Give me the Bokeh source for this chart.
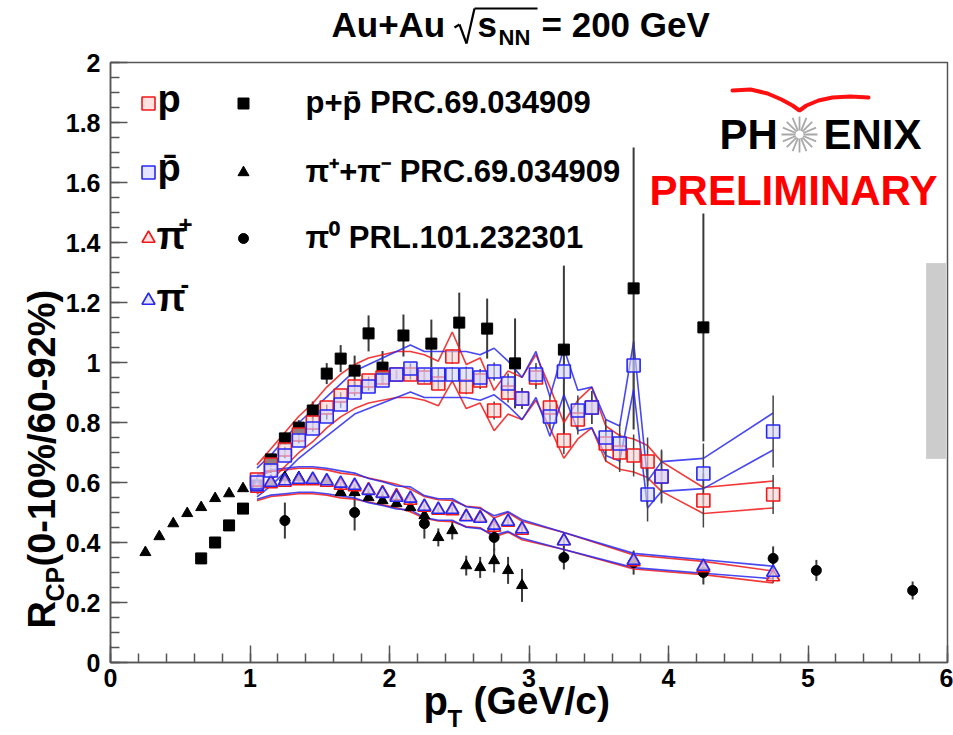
from math import pi, cos, sin

from bokeh.embed import file_html
from bokeh.models import FixedTicker, Label, PolyAnnotation, Range1d
from bokeh.plotting import figure
from bokeh.resources import INLINE

# ---------------------------------------------------------------- data
# PHENIX preliminary, 0-10% / 60-92% central-to-peripheral ratios
pt_p = [1.05, 1.15, 1.25, 1.35, 1.45, 1.55, 1.65, 1.75, 1.85, 1.95,
        2.05, 2.15, 2.25, 2.35, 2.45, 2.55, 2.65, 2.75, 2.85, 2.95,
        3.05, 3.15, 3.25, 3.35, 3.45, 3.55, 3.65, 3.75, 3.85, 3.95,
        4.25, 4.75]
rcp_p = [0.61, 0.66, 0.71, 0.76, 0.80, 0.85, 0.89, 0.92, 0.94, 0.95,
         0.96, 0.96, 0.95, 0.93, 1.02, 0.92, 0.94, 0.84, 0.90, 0.88,
         0.95, 0.85, 0.74, 0.81, 0.85, 0.73, 0.70, 0.69, 0.67, 0.62,
         0.54, 0.56]
stat_p = [0.008, 0.008, 0.009, 0.009, 0.010, 0.010, 0.011, 0.012, 0.013, 0.014,
          0.015, 0.017, 0.019, 0.021, 0.024, 0.026, 0.028, 0.030, 0.033, 0.035,
          0.038, 0.041, 0.045, 0.050, 0.055, 0.060, 0.065, 0.070, 0.080, 0.085,
          0.090, 0.065]
rcp_pbar = [0.60, 0.64, 0.69, 0.74, 0.78, 0.82, 0.86, 0.90, 0.92, 0.94,
            0.96, 0.98, 0.96, 0.96, 0.96, 0.96, 0.95, 0.97, 0.93, 0.88,
            0.96, 0.82, 0.97, 0.84, 0.85, 0.75, 0.73, 0.99, 0.56, 0.62,
            0.63, 0.77]
stat_pbar = [0.008, 0.008, 0.009, 0.009, 0.010, 0.010, 0.011, 0.012, 0.013, 0.014,
             0.015, 0.017, 0.019, 0.021, 0.024, 0.026, 0.028, 0.030, 0.033, 0.035,
             0.038, 0.041, 0.045, 0.050, 0.055, 0.060, 0.065, 0.080, 0.090, 0.090,
             0.100, 0.120]
sys_frac_p = 0.08

pt_pi = [1.05, 1.15, 1.25, 1.35, 1.45, 1.55, 1.65, 1.75, 1.85, 1.95,
         2.05, 2.15, 2.25, 2.35, 2.45, 2.55, 2.65, 2.75, 2.85, 2.95,
         3.25, 3.75, 4.25, 4.75]
rcp_pip = [0.580, 0.595, 0.600, 0.605, 0.605, 0.600, 0.590, 0.585, 0.575, 0.565,
           0.555, 0.540, 0.517, 0.507, 0.505, 0.487, 0.483, 0.450, 0.467, 0.440,
           0.405, 0.335, 0.315, 0.285]
rcp_pim = [0.585, 0.600, 0.605, 0.610, 0.610, 0.605, 0.597, 0.590, 0.573, 0.563,
           0.550, 0.547, 0.520, 0.510, 0.510, 0.485, 0.480, 0.457, 0.470, 0.445,
           0.405, 0.340, 0.320, 0.300]
stat_pi = [0.004, 0.004, 0.004, 0.004, 0.004, 0.004, 0.005, 0.005, 0.005, 0.006,
           0.006, 0.006, 0.007, 0.007, 0.008, 0.008, 0.009, 0.010, 0.010, 0.011,
           0.012, 0.015, 0.018, 0.020]
sys_frac_pi = 0.07

# published p+pbar, PRC 69 034909
pt_ppbar_pub = [0.65, 0.75, 0.85, 0.95, 1.05, 1.15, 1.25, 1.35, 1.45, 1.55,
                1.65, 1.75, 1.85, 1.95, 2.1, 2.3, 2.5, 2.7, 2.9, 3.25, 3.75, 4.25]
rcp_ppbar_pub = [0.347, 0.400, 0.457, 0.513, 0.590, 0.677, 0.747, 0.783, 0.840, 0.963,
                 1.013, 0.973, 1.097, 0.983, 1.090, 1.063, 1.133, 1.113, 0.997, 1.043,
                 1.247, 1.117]
err_ppbar_pub = [0.005, 0.005, 0.006, 0.008, 0.010, 0.015, 0.020, 0.025, 0.030, 0.035,
                 0.045, 0.050, 0.060, 0.055, 0.070, 0.080, 0.100, 0.100, 0.150, 0.280,
                 0.470, 0.380]

# published pi+ + pi-, PRC 69 034909
pt_pipm_pub = [0.25, 0.35, 0.45, 0.55, 0.65, 0.75, 0.85, 0.95, 1.05, 1.15,
               1.25, 1.35, 1.45, 1.55, 1.65, 1.75, 1.85, 1.95, 2.05, 2.15,
               2.25, 2.35, 2.45, 2.55, 2.65, 2.75, 2.85, 2.95]
rcp_pipm_pub = [0.367, 0.420, 0.463, 0.497, 0.517, 0.547, 0.563, 0.580, 0.590, 0.600,
                0.617, 0.617, 0.613, 0.607, 0.567, 0.567, 0.550, 0.540, 0.530, 0.517,
                0.490, 0.417, 0.440, 0.323, 0.317, 0.340, 0.307, 0.257]
err_pipm_pub = [0.003, 0.003, 0.003, 0.003, 0.003, 0.003, 0.004, 0.004, 0.004, 0.005,
                0.005, 0.005, 0.006, 0.006, 0.007, 0.008, 0.009, 0.010, 0.012, 0.014,
                0.020, 0.030, 0.030, 0.033, 0.035, 0.040, 0.045, 0.055]

# published pi0, PRL 101 232301
pt_pi0 = [1.25, 1.75, 2.25, 2.75, 3.25, 3.75, 4.25, 4.75, 5.06, 5.75]
rcp_pi0 = [0.473, 0.500, 0.463, 0.417, 0.350, 0.333, 0.300, 0.347, 0.307, 0.240]
err_pi0 = [0.060, 0.060, 0.050, 0.045, 0.040, 0.040, 0.040, 0.040, 0.035, 0.030]

# overall normalisation uncertainty (Ncoll), drawn at unity
norm_lo, norm_hi = 0.68, 1.33

x_ticks = [0, 1, 2, 3, 4, 5, 6]
y_ticks = [0.0, 0.2, 0.4, 0.6, 0.8, 1.0, 1.2, 1.4, 1.6, 1.8, 2.0]

# ---------------------------------------------------------------- layout
# The data frame (0..6 x 0..2) sits inside the canvas at these pixel edges;
# the plotting area spans the whole canvas so that titles are not clipped.
W, H = 953, 735
FL, FR, FT, FB = 110, 947, 62, 662
XMAX, YMAX = 6.0, 2.0
FONT = "Liberation Sans"
RED, BLUE = "#f01818", "#2828f0"
RED_FILL, BLUE_FILL = "#ffd0d0", "#d4d4ff"
AX_COLOR = "#555555"


def dx(px):
    return (px - FL) / (FR - FL) * XMAX


def dy(py):
    return (FB - py) / (FB - FT) * YMAX


p = figure(width=W, height=H,
           x_range=Range1d(dx(0), dx(W)), y_range=Range1d(dy(H), dy(0)),
           output_backend="svg", toolbar_location=None,
           min_border_left=0, min_border_right=0, min_border_top=0, min_border_bottom=0)
p.title.visible = False
p.grid.visible = False
p.outline_line_color = None
p.background_fill_color = "white"
p.border_fill_color = "white"

for ax in (p.xaxis[0], p.yaxis[0]):
    ax.fixed_location = 0
    ax.axis_line_color = AX_COLOR
    ax.axis_line_width = 1.5
    ax.major_tick_line_color = AX_COLOR
    ax.minor_tick_line_color = AX_COLOR
    ax.major_tick_line_width = 1.5
    ax.minor_tick_line_width = 1.5
    ax.major_tick_in = 17
    ax.major_tick_out = 0
    ax.minor_tick_in = 9
    ax.minor_tick_out = 0
    ax.major_label_text_font = FONT
    ax.major_label_text_font_style = "bold"
    ax.major_label_text_font_size = "25px"
    ax.major_label_text_color = "black"

p.xaxis.bounds = (0, XMAX)
p.yaxis.bounds = (0, YMAX)
p.xaxis.ticker = FixedTicker(ticks=x_ticks, minor_ticks=[i * 0.2 for i in range(31)])
p.yaxis.ticker = FixedTicker(ticks=y_ticks, minor_ticks=[i * 0.05 for i in range(41)])
p.xaxis.major_label_overrides = {t: "%g" % t for t in x_ticks}
p.yaxis.major_label_overrides = {t: "%g" % t for t in y_ticks}
p.xaxis.major_label_standoff = 6
p.yaxis.major_label_standoff = 10

# frame box around the data region
p.quad(left=[0], right=[XMAX], bottom=[0], top=[YMAX], fill_color=None,
       line_color=AX_COLOR, line_width=1.5)

# ---------------------------------------------------------------- normalisation box
p.quad(left=[dx(926)], right=[dx(945)], bottom=[norm_lo], top=[norm_hi],
       fill_color="#cccccc", line_color="#bbbbbb", line_dash="1 1")


def err_segments(x, y, e, color, width):
    p.segment(x0=x, x1=x, y0=[a - b for a, b in zip(y, e)], y1=[a + b for a, b in zip(y, e)],
              line_color=color, line_width=width)


def sys_band(x, y, frac, color):
    p.line(x, [v * (1 + frac) for v in y], line_color=color, line_width=1.6, line_alpha=0.85)
    p.line(x, [v * (1 - frac) for v in y], line_color=color, line_width=1.6, line_alpha=0.85)


# published error bars underneath everything
err_segments(pt_ppbar_pub, rcp_ppbar_pub, err_ppbar_pub, "#3a3a3a", 2)
err_segments(pt_pipm_pub, rcp_pipm_pub, err_pipm_pub, "#3a3a3a", 2)
err_segments(pt_pi0, rcp_pi0, err_pi0, "#3a3a3a", 2)

# systematic bands of the preliminary data
sys_band(pt_pi, rcp_pip, sys_frac_pi, RED)
sys_band(pt_pi, rcp_pim, sys_frac_pi, BLUE)
sys_band(pt_p, rcp_p, sys_frac_p, RED)
sys_band(pt_p, rcp_pbar, sys_frac_p, BLUE)

err_segments(pt_p, rcp_p, stat_p, "#444444", 1.5)
err_segments(pt_p, rcp_pbar, stat_pbar, "#444444", 1.5)
err_segments(pt_pi, rcp_pip, stat_pi, "#444444", 1.5)
err_segments(pt_pi, rcp_pim, stat_pi, "#444444", 1.5)

# published markers
p.scatter(pt_pipm_pub, rcp_pipm_pub, marker="triangle", size=11, color="black")
p.scatter(pt_ppbar_pub, rcp_ppbar_pub, marker="square", size=11, color="black")
p.scatter(pt_pi0, rcp_pi0, marker="circle", size=10, color="black")

# preliminary markers (open)
p.scatter(pt_pi, rcp_pip, marker="triangle", size=13, line_color=RED, line_width=1.6,
          fill_color=RED_FILL, fill_alpha=0.6)
p.scatter(pt_pi, rcp_pim, marker="triangle", size=13, line_color=BLUE, line_width=1.6,
          fill_color=BLUE_FILL, fill_alpha=0.6)
p.scatter(pt_p, rcp_p, marker="square", size=13, line_color=RED, line_width=1.6,
          fill_color=RED_FILL, fill_alpha=0.6)
p.scatter(pt_p, rcp_pbar, marker="square", size=13, line_color=BLUE, line_width=1.6,
          fill_color=BLUE_FILL, fill_alpha=0.6)


# ---------------------------------------------------------------- text helpers
# positions are canvas pixels from the top-left corner (baseline of the text),
# converted to data units; BASE_SHIFT compensates the baseline placement
BASE_SHIFT = 0.4


def lab(text, px, py, size, color="black", align="left", angle=0.0):
    if angle:
        px -= BASE_SHIFT * size
    else:
        py -= BASE_SHIFT * size
    p.add_layout(Label(x=dx(px), y=dy(py), text=text,
                       text_font=FONT, text_font_style="bold", text_font_size=f"{size}px",
                       text_color=color, text_align=align, text_baseline="alphabetic",
                       angle=angle))


def stroke(points, color="black", width=2.0):
    for (xa, ya), (xb, yb) in zip(points[:-1], points[1:]):
        p.add_layout(PolyAnnotation(xs=[dx(xa), dx(xb)], ys=[dy(ya), dy(yb)],
                                    fill_alpha=0, line_alpha=1.0,
                                    line_color=color, line_width=width))


# title:  Au+Au sqrt(s_NN) = 200 GeV
lab("Au+Au", 331, 38, 35)
stroke([(454, 27), (459, 24), (466, 43), (474, 8), (537, 8)], width=2.2)
lab("s", 477, 38, 35)
lab("NN", 498, 46, 22)
lab("= 200 GeV", 541, 38, 35)

# axis titles
lab("R", 57, 628, 38, angle=pi / 2)
lab("CP", 64, 601, 25, angle=pi / 2)
lab("(0-10%/60-92%)", 57, 566, 38, angle=pi / 2)

lab("p", 423, 716, 40)
lab("T", 447, 728, 24)
lab("(GeV/c)", 473, 716, 39)

# ---------------------------------------------------------------- legend
leg_x1, leg_x2 = dx(148), dx(243)
rows = [dy(103), dy(172), dy(238), dy(300)]
p.scatter([leg_x1], [rows[0]], marker="square", size=13, line_color=RED, line_width=1.6,
          fill_color=RED_FILL, fill_alpha=0.6)
p.scatter([leg_x1], [rows[1]], marker="square", size=13, line_color=BLUE, line_width=1.6,
          fill_color=BLUE_FILL, fill_alpha=0.6)
p.scatter([leg_x1], [rows[2]], marker="triangle", size=13, line_color=RED, line_width=1.6,
          fill_color=RED_FILL, fill_alpha=0.6)
p.scatter([leg_x1], [rows[3]], marker="triangle", size=13, line_color=BLUE, line_width=1.6,
          fill_color=BLUE_FILL, fill_alpha=0.6)
p.scatter([leg_x2], [rows[0]], marker="square", size=11, color="black")
p.scatter([leg_x2], [rows[1]], marker="triangle", size=11, color="black")
p.scatter([leg_x2], [rows[2]], marker="circle", size=10, color="black")

lab("p", 157, 114, 38)
lab("p\u0304", 157, 183, 38)
lab("\u03c0", 156, 251, 38)
lab("+", 178, 234, 24)
lab("\u03c0", 156, 313, 38)
lab("-", 180, 294, 26)

lab("p+p\u0304 PRC.69.034909", 305, 114, 31)
lab("\u03c0\u207a+\u03c0\u207b PRC.69.034909", 305, 183, 31)
lab("\u03c0\u2070 PRL.101.232301", 305, 249, 31)

# ---------------------------------------------------------------- PHENIX logo
swoosh_x = [732, 750, 767, 781, 792, 799, 806, 818, 832, 850, 868]
swoosh_y = [90, 89, 93, 99, 105, 110, 105, 100, 97, 96, 97]
p.line([dx(v) for v in swoosh_x], [dy(v) for v in swoosh_y], line_color="#ff1010",
       line_width=4, line_cap="round")
star_cx, star_cy, star_r = 799, 134, 18
n_spokes = 16
for k in range(n_spokes):
    a = 2 * pi * k / n_spokes
    p.segment(x0=[dx(star_cx + 4 * cos(a))], y0=[dy(star_cy + 4 * sin(a))],
              x1=[dx(star_cx + star_r * cos(a))], y1=[dy(star_cy + star_r * sin(a))],
              line_color="#a8a8a8", line_width=1.8)
lab("PH", 719, 151, 42)
lab("ENIX", 823, 151, 42)
lab("PRELIMINARY", 793, 207, 42, color="#ff0000", align="center")

open("out.html", "w").write(file_html(p, INLINE))
